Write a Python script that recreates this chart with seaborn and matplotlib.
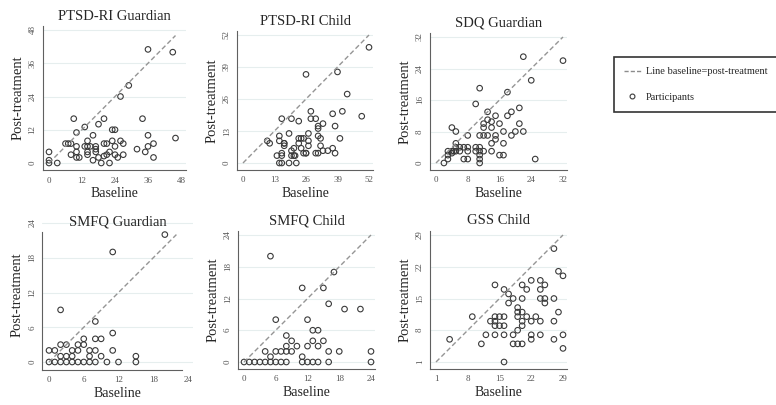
import seaborn as sns
import matplotlib.pyplot as plt
import numpy as np

# Panel titles and axis ticks
titles = ["PTSD-RI Guardian", "PTSD-RI Child", "SDQ Guardian",
          "SMFQ Guardian", "SMFQ Child", "GSS Child"]
ticks = [[0, 12, 24, 36, 48], [0, 13, 26, 39, 52], [0, 8, 16, 24, 32],
         [0, 6, 12, 18, 24], [0, 6, 12, 18, 24], [1, 8, 15, 22, 29]]
line_lo = [0, 0, 0, 0, 0, 1]
line_hi = [46, 52, 32, 22, 24, 29]

# Participants: baseline (x) and post-treatment (y)
ptsd_g_x = [0, 0, 0, 3, 6, 7, 8, 8, 9, 10, 10, 10, 10, 11, 13, 13, 14, 14, 14, 14,
            15, 16, 16, 17, 17, 17, 18, 18, 19, 20, 20, 20, 21, 21, 22, 22, 23, 24,
            23, 24, 24, 25, 26, 26, 27, 27, 29, 32, 34, 35, 36, 36, 36, 38, 38, 45, 46]
ptsd_g_y = [4, 1, 0, 0, 7, 7, 7, 3, 16, 11, 6, 4, 2, 2, 13, 6, 8, 6, 4, 3,
            6, 10, 1, 6, 5, 4, 14, 2, 0, 2.5, 16, 7, 7, 3, 0, 4, 12, 12,
            8, 6, 3, 2, 8, 24, 7, 3, 28, 5, 16, 4, 10, 6, 41, 7, 2, 40, 9]

ptsd_c_x = [10, 11, 14, 15, 15, 15, 16, 16, 16, 16, 17, 17, 17, 19, 19, 20, 20, 20,
            21, 21, 21.5, 22, 23, 23, 23, 24, 24, 25, 25, 26, 26, 26, 27, 27, 27, 28,
            28, 30, 30, 31, 31, 31, 31, 32, 32, 33, 33, 35, 37, 37, 38, 38, 39, 40,
            41, 43, 49, 52]
ptsd_c_y = [9, 8, 3, 11, 9, 0, 0, 3, 4, 18, 8, 7, 8, 0, 12, 18, 5, 3,
            6, 3, 3, 0, 17, 10, 8, 10, 6, 10, 4, 4, 4, 36, 12, 9, 7, 21,
            18, 18, 4, 4, 15, 14, 11, 10, 7, 16, 5, 5, 20, 6, 15, 4, 37, 10,
            21, 28, 19, 47]

sdq_g_x = [2, 3, 3, 3, 4, 4, 4, 4.5, 5, 5, 5, 5, 6, 6, 7, 7, 8, 8, 8, 8, 10, 10,
           10, 11, 11, 11, 11, 11, 11, 11, 12, 12, 12, 12, 13, 13, 13, 14, 14, 14,
           14, 15, 15, 15, 16, 16, 17, 17, 17, 18, 18, 19, 19, 20, 21, 21, 22, 22,
           24, 25, 32]
sdq_g_y = [0, 1, 2, 3, 2.5, 3, 9, 3, 8, 5, 4, 3, 4, 3, 4, 1, 1, 3, 7, 4, 15, 4,
           3, 3, 2, 1, 0, 19, 7, 4, 3, 7, 10, 9, 13, 11, 7, 10.5, 9, 5,
           3, 12, 7, 6, 10, 2, 2, 8, 5, 18, 12, 13, 7, 8, 10, 14, 8, 27,
           21, 1, 26]

smfq_g_x = [0, 0, 1, 1, 2, 2, 2, 2, 3, 3, 3, 4, 4, 4, 5, 5, 5, 6, 6, 6, 7, 7, 7,
            8, 8, 8, 8, 9, 9, 10, 11, 11, 11, 12, 15, 15, 20]
smfq_g_y = [2, 0, 2, 0, 9, 3, 1, 0, 3, 1, 0, 2, 1, 0, 3, 2, 0, 4, 3, 0, 2, 1, 0,
            7, 4, 2, 0, 4, 1, 0, 19, 5, 2, 0, 1, 0, 22]

smfq_c_x = [0, 1, 2, 3, 4, 4, 5, 5, 5, 6, 6, 6, 7, 7, 8, 8, 8, 8, 9, 9, 10, 11, 11,
            11, 12, 12, 12, 13, 13, 13, 14, 14, 14, 15, 15, 16, 16, 16, 17, 18, 19,
            22, 24, 24]
smfq_c_y = [0, 0, 0, 0, 0, 2, 0, 1, 20, 0, 2, 8, 0, 2, 0, 2, 3, 5, 2, 4, 3, 0, 1,
            14, 0, 3, 8, 0, 4, 6, 0, 6, 3, 14, 4, 0, 2, 11, 17, 2, 10,
            10, 0, 2]

gss_c_x = [4, 9, 11, 12, 13, 14, 14, 14, 14, 14, 15, 15, 16, 16, 16, 16, 16, 17, 17,
           18, 18, 18, 19, 19, 19, 19, 19, 20, 20, 20, 20, 20, 20, 21, 21, 22, 22, 22,
           22, 23, 24, 24, 24, 24, 24, 25, 25, 25, 27, 27, 27, 27, 28, 28, 29, 29, 29]
gss_c_y = [6, 11, 5, 7, 10, 11, 10, 9, 7, 18, 11, 9, 11, 9, 7, 17, 1, 16, 14,
           5, 7, 15, 5, 13, 12, 11, 8, 5, 12, 10, 9, 15, 18, 17, 11, 19, 10, 7,
           6, 11, 10, 7, 15, 17, 19, 18, 15, 14, 26, 15, 10, 6, 12, 21, 20, 7, 4]

xs = [ptsd_g_x, ptsd_c_x, sdq_g_x, smfq_g_x, smfq_c_x, gss_c_x]
ys = [ptsd_g_y, ptsd_c_y, sdq_g_y, smfq_g_y, smfq_c_y, gss_c_y]

# pixel positions of first/last tick on each panel (x_lo, x_hi, y_lo, y_hi)
tick_px = [(49, 181, 163, 30), (243, 369, 163, 35), (436, 563, 163, 37),
           (49, 188, 362, 223), (244, 371, 362, 235), (436, 563, 362, 235)]
title_pad = [4.5, 4.5, 4.5, -5, 5, 5]

W, H = 776, 405
sns.set_style("white")
plt.rcParams["font.family"] = ["Liberation Serif", "DejaVu Serif"]
fig = plt.figure(figsize=(W / 100, H / 100), dpi=100)

pad_l, pad_r, pad_b, pad_t = 0.047, 0.035, 0.055, 0.03
grey = "#606060"

for i in range(6):
    x0, x1, y0, y1 = tick_px[i]
    lo, hi = ticks[i][0], ticks[i][-1]
    span = hi - lo
    pw, ph = x1 - x0, y0 - y1
    left = x0 - pad_l * pw
    right = x1 + pad_r * pw
    bottom = y0 + pad_b * ph
    top = y1 - pad_t * ph
    ax = fig.add_axes([left / W, 1 - bottom / H, (right - left) / W, (bottom - top) / H])

    sns.scatterplot(x=xs[i], y=ys[i], ax=ax, marker="o", s=16,
                    facecolor="none", edgecolor="#3a3a3a", linewidth=0.8)
    ax.plot([line_lo[i], line_hi[i]], [line_lo[i], line_hi[i]],
            color="#959595", linestyle=(0, (3.5, 2)), linewidth=1.0, zorder=1)

    ax.set_xlim(lo - pad_l * span, hi + pad_r * span)
    ax.set_ylim(lo - pad_b * span, hi + pad_t * span)
    ax.set_xticks(ticks[i])
    ax.set_yticks(ticks[i])
    ax.tick_params(axis="both", length=2.5, width=0.6, color=grey,
                   labelsize=6.5, labelcolor="#555555", pad=2)
    for lab in ax.get_yticklabels():
        lab.set_rotation(90)
        lab.set_va("center")
    ax.grid(axis="y", color="#e6eeee", linewidth=0.8)
    ax.set_axisbelow(True)

    sns.despine(ax=ax)
    ax.spines["left"].set_color(grey)
    ax.spines["bottom"].set_color(grey)
    ax.spines["left"].set_linewidth(0.8)
    ax.spines["bottom"].set_linewidth(0.8)
    if i == 3:
        ax.spines["bottom"].set_bounds(ax.get_xlim()[0], 23)
        ax.spines["left"].set_bounds(ax.get_ylim()[0], 22.4)

    ax.set_title(titles[i], fontsize=10.5, pad=title_pad[i])
    ax.set_xlabel("Baseline", fontsize=10, labelpad=2)
    ax.set_ylabel("Post-treatment", fontsize=10.5, labelpad=3)

# Legend
h_line = plt.Line2D([], [], color="#8c8c8c", linestyle=(0, (3, 1.5)), linewidth=1.0)
h_pts = plt.Line2D([], [], color="none", marker="o", markersize=3.5,
                   markerfacecolor="none", markeredgecolor="#3a3a3a", markeredgewidth=0.8)
leg = fig.legend([h_line, h_pts], ["Line baseline=post-treatment", "Participants"],
                 loc="upper left", bbox_to_anchor=(614 / W, 1 - 57 / H),
                 borderaxespad=0, fontsize=7.5, frameon=True, fancybox=False,
                 handlelength=1.6, labelspacing=1.6, borderpad=0.95,
                 handletextpad=0.5)
leg.get_frame().set_edgecolor("black")
leg.get_frame().set_linewidth(1.2)

fig.savefig("out.png", dpi=100)
